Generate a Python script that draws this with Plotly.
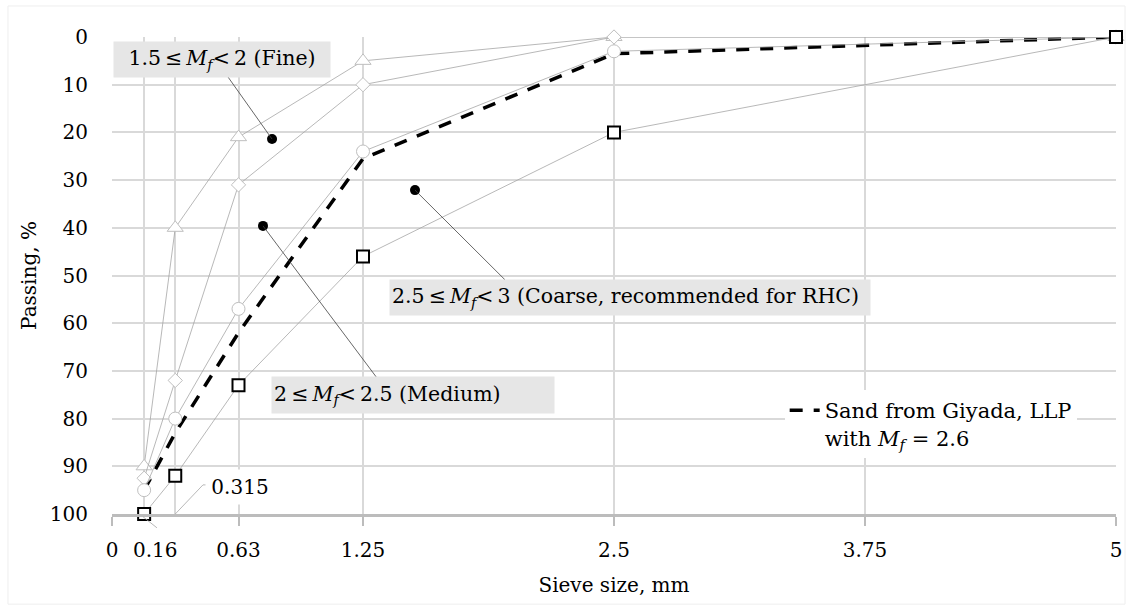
import plotly.graph_objects as go

# ---- data ----
sieve_mm = [0.16, 0.315, 0.63, 1.25, 2.5, 5]
fine_pass = [90, 40, 21, 5, 0, 0]          # triangles  (1.5 <= Mf < 2 boundary)
medium_pass = [92.5, 72, 31, 10, 0, 0]     # diamonds
coarse_pass = [95, 80, 57, 24, 3, 0]       # circles
coarse_lim_pass = [100, 92, 73, 46, 20, 0] # squares
giyada_pass = [95, 83, 62, 25.5, 3.5, 0]   # dashed: Sand from Giyada, LLP

x_tickvals = [0, 0.63, 1.25, 2.5, 3.75, 5]
x_ticktext = ["0", "0.63", "1.25", "2.5", "3.75", "5"]
x_extra_grid = [0.16, 0.315]
y_tickvals = [0, 10, 20, 30, 40, 50, 60, 70, 80, 90, 100]

TS = "\u2009"  # thin space
MF = "<i>M</i><sub><i>f</i></sub>"
# callout labels (data coords): text, centre x, centre y, box w, box h, align
callouts = [
    (f"1.5{TS}≤{TS}{MF}<{TS}2 (Fine)", 0.548, 4.72, 216, 35, "center"),
    (f"2{TS}≤{TS}{MF}<{TS}2.5 (Medium)", 1.499, 75.05, 282, 36, "left"),
    (f"2.5{TS}≤{TS}{MF}<{TS}3 (Coarse, recommended for RHC)", 2.580, 54.6, 480, 35, "left"),
]
dot_x = [0.797, 0.752, 1.509]
dot_y = [21.4, 39.6, 32.1]
leader_end_x = [0.578, 1.320, 1.957]
leader_end_y = [8.4, 71.5, 50.9]

FONT = "DejaVu Serif"
GRID = "#d9d9d9"
SERIES_GRAY = "#a6a6a6"
MARK_GRAY = "#bfbfbf"

fig = go.Figure()

fig.add_trace(go.Scatter(
    x=sieve_mm, y=giyada_pass, mode="lines",
    line=dict(color="black", width=3.5, dash="13px,11px"),
    name=f"Sand from Giyada, LLP<br>with {MF} = 2.6",
    showlegend=True, cliponaxis=False))

for yy, sym, sz in [(fine_pass, "triangle-up", 14), (medium_pass, "diamond", 11),
                    (coarse_pass, "circle", 13)]:
    fig.add_trace(go.Scatter(
        x=sieve_mm, y=yy, mode="lines+markers",
        line=dict(color=SERIES_GRAY, width=0.8),
        marker=dict(symbol=sym, size=sz, color="white",
                    line=dict(color=MARK_GRAY, width=1)),
        showlegend=False, cliponaxis=False))

fig.add_trace(go.Scatter(
    x=sieve_mm, y=coarse_lim_pass, mode="lines+markers",
    line=dict(color=SERIES_GRAY, width=0.8),
    marker=dict(symbol="square", size=12, color="white",
                line=dict(color="black", width=2)),
    showlegend=False, cliponaxis=False))

# pointer dots of the callouts
fig.add_trace(go.Scatter(
    x=dot_x, y=dot_y, mode="markers",
    marker=dict(color="black", size=10), showlegend=False, cliponaxis=False))

shapes = []
for i in range(len(dot_x)):
    shapes.append(dict(type="line", xref="x", yref="y",
                       x0=dot_x[i], y0=dot_y[i], x1=leader_end_x[i], y1=leader_end_y[i],
                       line=dict(color="#404040", width=0.8), layer="above"))

annotations = []
for text, cx, cy, w, h, al in callouts:
    annotations.append(dict(
        x=cx, y=cy, xref="x", yref="y", text=text, showarrow=False,
        font=dict(family=FONT, size=20.5, color="black"),
        bgcolor="#e6e6e6", width=w - 4, height=h - 4, borderpad=2, align=al,
        valign="middle", xanchor="center", yanchor="middle"))

# 0.315 label with leader
lbl315_x, lbl315_y = 0.637, 94.3
shapes.append(dict(type="path", xref="x", yref="y",
                   path=f"M {x_extra_grid[1]},100 L 0.453,93.9 L 0.473,93.9",
                   line=dict(color="#a6a6a6", width=0.8), layer="above"))
annotations.append(dict(x=lbl315_x, y=lbl315_y, xref="x", yref="y", text="0.315",
                        showarrow=False, font=dict(family=FONT, size=20, color="black"),
                        bgcolor="white", width=64, height=30, borderpad=2,
                        xanchor="center", yanchor="middle"))
# 0.16 label (offset, with leader)
annotations.append(dict(x=0.219 / 5, y=-0.0755, xref="paper", yref="paper", text="0.16",
                        showarrow=False, font=dict(family=FONT, size=20, color="black"),
                        xanchor="center", yanchor="middle"))
shapes.append(dict(type="line", xref="paper", yref="paper",
                   x0=x_extra_grid[0] / 5 - 0.001, y0=-0.006, x1=0.224 / 5, y1=-0.029,
                   line=dict(color="#a6a6a6", width=0.8)))

# faint chart-area border
shapes.append(dict(type="rect", xref="paper", yref="paper",
                   x0=-0.1036, x1=1.009, y0=-0.189, y1=1.065,
                   line=dict(color="#eeeeee", width=1), layer="below"))

fig.update_layout(
    width=1132, height=607,
    margin=dict(l=112, r=16, t=37, b=93),
    paper_bgcolor="white", plot_bgcolor="white",
    font=dict(family=FONT, size=20, color="black"),
    shapes=shapes, annotations=annotations,
    showlegend=True,
    legend=dict(x=0.670, y=0.2600, xanchor="left", yanchor="top",
                bgcolor="white", font=dict(family=FONT, size=21, color="black"),
                valign="top", itemwidth=30),
    xaxis=dict(range=[0, 5], tickmode="array", tickvals=x_tickvals, ticktext=x_ticktext,
               showgrid=True, gridcolor=GRID, gridwidth=1.5,
               minor=dict(tickmode="array", tickvals=x_extra_grid, showgrid=True,
                          gridcolor=GRID, gridwidth=1.5, ticks=""),
               showline=True, linecolor="#bcbcbc", linewidth=2.5,
               ticks="outside", ticklen=9, tickcolor="#bcbcbc", tickwidth=1.5,
               ticklabelstandoff=7, zeroline=False,
               tickfont=dict(family=FONT, size=20),
               title=dict(text="Sieve size, mm", font=dict(family=FONT, size=20), standoff=18),
               automargin=False),
    yaxis=dict(range=[100, 0], tickmode="array", tickvals=y_tickvals,
               showgrid=True, gridcolor=GRID, gridwidth=1.5,
               showline=False, ticks="", ticklabelstandoff=23, zeroline=False,
               tickfont=dict(family=FONT, size=20),
               title=dict(text="Passing, %", font=dict(family=FONT, size=20), standoff=7),
               automargin=False),
)

fig.write_html("out.html")
